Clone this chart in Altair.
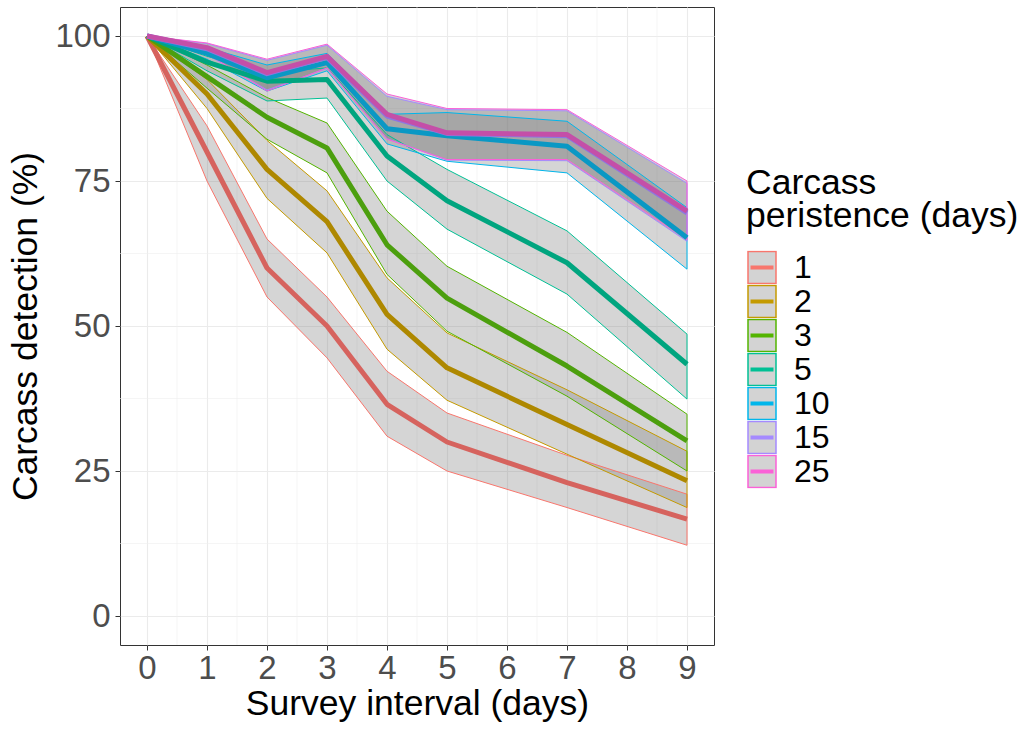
import altair as alt
import pandas as pd

# ---- data ----
days = [0, 1, 2, 3, 4, 5, 7, 9]
groups = ["1", "2", "3", "5", "10", "15", "25"]

mean_1 = [100, 80, 60, 50, 36.5, 30, 23, 16.7]
upper_1 = [100, 84.5, 65, 55, 42.2, 35, 27.7, 21]
lower_1 = [100, 75, 55, 44.5, 31, 25, 18.7, 12.2]

mean_2 = [100, 90, 77, 68, 52, 42.8, 33, 23.3]
upper_2 = [100, 92.5, 82, 73.3, 58.3, 48.8, 39, 28.4]
lower_2 = [100, 87.5, 72, 62.6, 46, 37.2, 27.9, 18.7]

mean_3 = [100, 93, 86, 80.7, 64, 54.8, 43.1, 30.2]
upper_3 = [100, 95, 89.4, 85, 69.8, 60.3, 48.9, 34.8]
lower_3 = [100, 91, 82.2, 76.4, 58.9, 49.1, 37.9, 25]

mean_5 = [100, 95.5, 92.2, 92.5, 79.3, 71.6, 60.9, 43.4]
upper_5 = [100, 96.5, 93.7, 94.5, 83, 77, 66.4, 48.6]
lower_5 = [100, 94, 88.8, 89.3, 75, 66.7, 55.5, 37.4]

mean_10 = [100, 97, 92.8, 95.4, 84, 82.8, 81, 65.2]
upper_10 = [100, 98, 95, 97, 86.5, 86.8, 85.3, 70.4]
lower_10 = [100, 96, 90.5, 94, 81.4, 78.4, 76.4, 59.8]

mean_15 = [100, 97.8, 93.5, 96.3, 86.2, 83.2, 82.8, 69.5]
upper_15 = [100, 98.7, 95.8, 98.4, 89.6, 87.3, 87.1, 74.6]
lower_15 = [100, 96.8, 90.7, 94.4, 82.3, 78.6, 78.5, 64.6]

mean_25 = [100, 98, 93.7, 96.5, 86.5, 83.3, 83, 69.8]
upper_25 = [100, 98.8, 96, 98.6, 90, 87.5, 87.3, 75]
lower_25 = [100, 97, 90.5, 94.5, 82.2, 78.7, 78.7, 64.9]

means = [mean_1, mean_2, mean_3, mean_5, mean_10, mean_15, mean_25]
uppers = [upper_1, upper_2, upper_3, upper_5, upper_10, upper_15, upper_25]
lowers = [lower_1, lower_2, lower_3, lower_5, lower_10, lower_15, lower_25]

edge_colors = ["#F8766D", "#C49A00", "#53B400", "#00C094", "#00B6EB", "#A58AFF", "#FB61D7"]
line_colors = ["#D6635E", "#AE8800", "#4C9F0E", "#00A57F", "#0A98C4", "#8E76E0", "#C44FA8"]

x_ticks = list(range(10))
y_ticks = [0, 25, 50, 75, 100]
x_minor = [0.5, 1.5, 2.5, 3.5, 4.5, 5.5, 6.5, 7.5, 8.5]
y_minor = [12.5, 37.5, 62.5, 87.5]

rows = []
outline_rows = []
for gi, g in enumerate(groups):
    for i, d in enumerate(days):
        rows.append({"day": d, "group": g, "mean": means[gi][i],
                     "lo": lowers[gi][i], "hi": uppers[gi][i], "lc": line_colors[gi]})
    # closed outline of the ribbon: lower edge forward, upper edge backward
    k = 0
    for i, d in enumerate(days):
        outline_rows.append({"day": d, "group": g, "edge": lowers[gi][i], "k": k})
        k += 1
    for i in range(len(days) - 1, -1, -1):
        outline_rows.append({"day": days[i], "group": g, "edge": uppers[gi][i], "k": k})
        k += 1
    outline_rows.append({"day": days[0], "group": g, "edge": lowers[gi][0], "k": k})
df = pd.DataFrame(rows)
df_out = pd.DataFrame(outline_rows)

FONT = "Liberation Sans"
xs = alt.Scale(domain=[-0.45, 9.45], nice=False, zero=False)
ys = alt.Scale(domain=[-5, 105], nice=False, zero=False)

x_axis = alt.Axis(values=x_ticks, grid=True, gridColor="#EBEBEB", gridWidth=1.1,
                  domain=False, ticks=True, tickColor="#333333", tickSize=5, tickWidth=1,
                  labelFontSize=33, labelColor="#4D4D4D", labelFont=FONT, labelPadding=2,
                  titleFontSize=35.5, titleColor="black", titleFont=FONT, titleFontWeight="normal",
                  titlePadding=1, format="d")
y_axis = alt.Axis(values=y_ticks, grid=True, gridColor="#EBEBEB", gridWidth=1.1,
                  domain=False, ticks=True, tickColor="#333333", tickSize=5, tickWidth=1,
                  labelFontSize=33, labelColor="#4D4D4D", labelFont=FONT, labelPadding=5,
                  titleFontSize=35.5, titleColor="black", titleFont=FONT, titleFontWeight="normal",
                  titlePadding=11, format="d")

X_TITLE = "Survey interval (days)"
Y_TITLE = "Carcass detection (%)"

minor_x = alt.Chart(pd.DataFrame({"day": x_minor})).mark_rule(
    color="#EFEFEF", strokeWidth=0.6).encode(
    x=alt.X("day:Q", scale=xs, axis=x_axis, title=X_TITLE))
minor_y = alt.Chart(pd.DataFrame({"mean": y_minor})).mark_rule(
    color="#EFEFEF", strokeWidth=0.6).encode(
    y=alt.Y("mean:Q", scale=ys, axis=y_axis, title=Y_TITLE))

sym_path = ("M-1,-1.15L1,-1.15L1,1.15L-1,1.15Z "
            "M-0.82,-0.09L0.82,-0.09 M-0.82,0L0.82,0 M-0.82,0.09L0.82,0.09")

legend = alt.Legend(
    title=["Carcass", "peristence (days)"], orient="none", legendX=626, legendY=159,
    symbolType=sym_path, symbolSize=784, symbolStrokeWidth=1.5,
    symbolFillColor="#D3D3D3", symbolOpacity=1,
    labelFontSize=32, labelFont=FONT, labelColor="black", labelOffset=16,
    titleFontSize=35.5, titleFont=FONT, titleColor="black", titleFontWeight="normal",
    titleLineHeight=33, titlePadding=16, titleLimit=600,
    clipHeight=34, rowPadding=0, padding=0)

ribbons = alt.Chart(df).mark_area(fill="#7F7F7F", fillOpacity=0.33, strokeWidth=0).encode(
    x=alt.X("day:Q", scale=xs, axis=x_axis, title=X_TITLE),
    y=alt.Y("lo:Q", scale=ys, axis=y_axis, title=Y_TITLE),
    y2="hi:Q",
    detail="group:N",
)

outlines = alt.Chart(df_out).mark_line(strokeWidth=1, strokeJoin="miter").encode(
    x=alt.X("day:Q", scale=xs, axis=x_axis, title=X_TITLE),
    y=alt.Y("edge:Q", scale=ys, axis=y_axis, title=Y_TITLE),
    stroke=alt.Stroke("group:N", scale=alt.Scale(domain=groups, range=edge_colors),
                      sort=groups, legend=legend),
    order="k:Q",
)

lines = alt.Chart(df).mark_line(strokeWidth=5, strokeJoin="round").encode(
    x=alt.X("day:Q", scale=xs, axis=x_axis, title=X_TITLE),
    y=alt.Y("mean:Q", scale=ys, axis=y_axis, title=Y_TITLE),
    color=alt.Color("lc:N", scale=None),
    detail="group:N",
)

chart = alt.layer(minor_x, minor_y, ribbons, outlines, lines).properties(
    width=594, height=638,
    autosize=alt.AutoSizeParams(type="none"),
    padding={"left": 120, "top": 7, "right": 311, "bottom": 84},
    background="white",
).configure_view(stroke="#333333", strokeWidth=1)

chart.save("out.html", embed_options={"renderer": "svg", "actions": False})
